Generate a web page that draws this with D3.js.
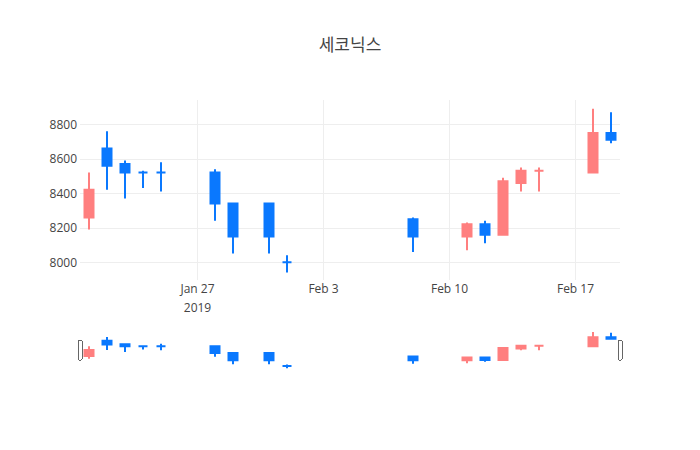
<!DOCTYPE html>
<html>
<head>
<meta charset="utf-8">
<script src="https://cdn.jsdelivr.net/npm/d3@7"></script>
<style>
  body { margin: 0; background: #fff; }
  text { font-family: "Open Sans", "Noto Sans CJK KR", sans-serif; }
</style>
</head>
<body>
<div id="chart"></div>
<script>
// --- Data ---
const title = "세코닉스";
const dates = ["2019-01-21", "2019-01-22", "2019-01-23", "2019-01-24", "2019-01-25",
  "2019-01-28", "2019-01-29", "2019-01-31", "2019-02-01", "2019-02-08",
  "2019-02-11", "2019-02-12", "2019-02-13", "2019-02-14", "2019-02-15",
  "2019-02-18", "2019-02-19"];
const open  = [8260, 8660, 8570, 8520, 8520, 8520, 8340, 8340, 8000, 8250, 8150, 8220, 8160, 8460, 8530, 8520, 8750];
const high  = [8520, 8760, 8590, 8530, 8580, 8540, 8340, 8340, 8040, 8260, 8230, 8240, 8490, 8550, 8550, 8890, 8870];
const low   = [8190, 8420, 8370, 8430, 8410, 8240, 8050, 8050, 7940, 8060, 8070, 8110, 8160, 8410, 8410, 8520, 8690];
const close = [8420, 8560, 8520, 8520, 8520, 8340, 8150, 8150, 8000, 8150, 8220, 8160, 8470, 8530, 8530, 8750, 8710];
const yTicks = [8000, 8200, 8400, 8600, 8800];
const xTicks = ["2019-01-27", "2019-02-03", "2019-02-10", "2019-02-17"];
const xTickLabels = [["Jan 27", "2019"], ["Feb 3"], ["Feb 10"], ["Feb 17"]];

// --- Layout ---
const w = 700, h = 450;
const left = 80, right = 620;
const plotTop = 100, plotBottom = 280;
const sliderTop = 330, sliderBottom = 370;
const upColor = "#ff7f7f", downColor = "#0a78fe";

const parse = d3.utcParse("%Y-%m-%d");
const halfDay = 12 * 3600 * 1000;

// direction like plotly: equal open/close falls back to previous close
const rows = [];
let prevDir = "down";
dates.forEach(function (d, i) {
  let dir;
  if (close[i] > open[i]) dir = "up";
  else if (close[i] < open[i]) dir = "down";
  else if (i > 0 && close[i] > close[i - 1]) dir = "up";
  else if (i > 0 && close[i] < close[i - 1]) dir = "down";
  else dir = prevDir;
  prevDir = dir;
  rows.push({ date: parse(d), o: open[i], h: high[i], l: low[i], c: close[i], dir: dir });
});

const xScale = d3.scaleUtc()
  .domain([new Date(+parse(dates[0]) - halfDay), new Date(+parse(dates[dates.length - 1]) + halfDay)])
  .range([left, right]);

const yDomain = [7897, 8941];
const yScale = d3.scaleLinear().domain(yDomain).range([plotBottom, plotTop]);
const ySlider = d3.scaleLinear().domain(yDomain).range([sliderBottom, sliderTop]);

const svg = d3.select("#chart").append("svg")
  .attr("width", w)
  .attr("height", h);

// Title
svg.append("text")
  .attr("x", w / 2)
  .attr("y", 51)
  .attr("text-anchor", "middle")
  .attr("font-size", "17px")
  .attr("fill", "#444")
  .text(title);

// Gridlines
svg.append("g").selectAll("line.xg")
  .data(xTicks)
  .enter().append("line")
  .attr("x1", d => Math.round(xScale(parse(d))) + 0.5)
  .attr("x2", d => Math.round(xScale(parse(d))) + 0.5)
  .attr("y1", plotTop)
  .attr("y2", plotBottom)
  .attr("stroke", "#eee");

svg.append("g").selectAll("line.yg")
  .data(yTicks)
  .enter().append("line")
  .attr("x1", left)
  .attr("x2", right)
  .attr("y1", d => Math.round(yScale(d)) + 0.5)
  .attr("y2", d => Math.round(yScale(d)) + 0.5)
  .attr("stroke", "#eee");

// Y axis labels
const yAxis = svg.append("g")
  .attr("transform", "translate(" + left + ",0)")
  .call(d3.axisLeft(yScale).tickValues(yTicks).tickSize(0).tickPadding(3).tickFormat(d3.format("d")));
yAxis.select(".domain").remove();
yAxis.selectAll("text")
  .attr("font-size", "12px")
  .attr("fill", "#444")
  .style("font-family", "'Open Sans', sans-serif");

// X axis labels
const xAxis = svg.append("g")
  .attr("transform", "translate(0," + plotBottom + ")")
  .call(d3.axisBottom(xScale).tickValues(xTicks.map(parse)).tickSize(0).tickFormat(""));
xAxis.select(".domain").remove();
xAxis.selectAll(".tick text")
  .attr("y", 0)
  .attr("dy", null)
  .attr("font-size", "12px")
  .attr("fill", "#444")
  .style("font-family", "'Open Sans', sans-serif")
  .each(function (d, i) {
    const t = d3.select(this);
    xTickLabels[i].forEach(function (line, k) {
      t.append("tspan")
        .attr("x", 0)
        .attr("y", 13 + k * 18.5)
        .text(line);
    });
  });

// Candle path (box + wicks)
function candlePath(d, ys, half) {
  const x = xScale(d.date);
  const yo = ys(d.o), yc = ys(d.c);
  const yTop = Math.min(yo, yc), yBot = Math.max(yo, yc);
  return "M" + (x - half) + "," + yo + "V" + yc + "H" + (x + half) + "V" + yo + "Z" +
    "M" + x + "," + ys(d.l) + "V" + yBot +
    "M" + x + "," + ys(d.h) + "V" + yTop;
}

function drawCandles(g, ys) {
  g.selectAll("path")
    .data(rows)
    .enter().append("path")
    .attr("d", d => candlePath(d, ys, 4.5))
    .attr("fill", d => d.dir === "up" ? upColor : downColor)
    .attr("stroke", d => d.dir === "up" ? upColor : downColor)
    .attr("stroke-width", 2);
}

const clipMain = svg.append("clipPath").attr("id", "clipMain");
clipMain.append("rect").attr("x", left).attr("y", plotTop).attr("width", right - left).attr("height", plotBottom - plotTop);
drawCandles(svg.append("g").attr("clip-path", "url(#clipMain)"), yScale);

// Range slider
const slider = svg.append("g");
slider.append("rect")
  .attr("x", left).attr("y", sliderTop)
  .attr("width", right - left).attr("height", sliderBottom - sliderTop)
  .attr("fill", "#fff");
drawCandles(slider.append("g"), ySlider);

const handleH = (sliderBottom - sliderTop) / 2;
slider.selectAll("rect.handle")
  .data([left, right])
  .enter().append("rect")
  .attr("class", "handle")
  .attr("x", d => d - 2)
  .attr("y", sliderTop + handleH / 2)
  .attr("width", 4)
  .attr("height", handleH)
  .attr("rx", 1)
  .attr("fill", "#fff")
  .attr("stroke", "#666")
  .attr("stroke-width", 1)
  .attr("shape-rendering", "crispEdges");
</script>
</body>
</html>
